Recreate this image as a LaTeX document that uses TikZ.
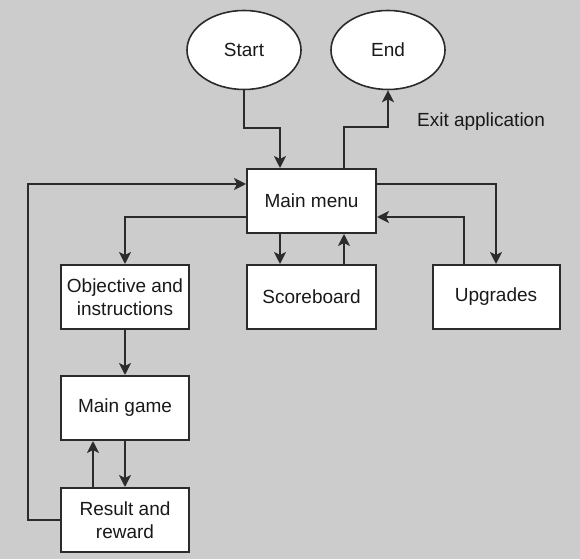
\documentclass[tikz,border=0pt]{standalone}
\usepackage{fontspec}
\setmainfont{Liberation Sans}
\usetikzlibrary{arrows.meta,shapes.geometric}

\definecolor{bggray}{HTML}{CCCCCC}
\definecolor{linegray}{HTML}{2B2B2B}

\tikzset{
	box/.style={draw=linegray, line width=2pt, fill=white, minimum width=128pt, minimum height=64pt, align=center, inner sep=2pt},
	oval/.style={ellipse, draw=linegray, line width=1.6pt, fill=white, minimum width=114pt, minimum height=79pt},
	arr/.style={draw=linegray, line width=2pt, -{Stealth[length=12pt,width=12pt,inset=3pt]}}
}

\begin{document}
\begin{tikzpicture}[x=1pt,y=1pt,font=\fontsize{19}{22.5}\selectfont, text=black!90]
	%background
	\fill[bggray] (0,0) rectangle (580,559);
	\useasboundingbox (0,0) rectangle (580,559);

	%terminals
	\node[oval] (start) at (244,509) 	{Start};
	\node[oval] (end) at (388,509) 		{End};

	%boxes
	\node[box, minimum width=129pt] (menu) at (311.5,358) 	{Main menu};
	\node[box] (obj) at (125,262) 							{Objective and\\instructions};
	\node[box, minimum width=129pt] (score) at (311.5,262) 	{Scoreboard};
	\node[box, minimum width=127pt] (upg) at (496,262) 		{Upgrades};
	\node[box] (game) at (125,151) 							{Main game};
	\node[box] (result) at (125,39) 						{Result and\\reward};

	%label
	\node (exit) at (481,437) 	{Exit application};

	%arrows
	\draw[arr]	(start.south) -- ++(0,-38) -| ([xshift=-31.5pt]menu.north);
	\draw[arr]	([xshift=32.5pt]menu.north) -- ++(0,41) -| (end.south);
	\draw[arr]	(result.west) -- ++(-32,0) |- ([yshift=17pt]menu.west);
	\draw[arr]	([yshift=-16pt]menu.west) -| (obj.north);
	\draw[arr]	([xshift=-31.5pt]menu.south) -- ([xshift=-31.5pt]score.north);
	\draw[arr]	([xshift=32.5pt]score.north) -- ([xshift=32.5pt]menu.south);
	\draw[arr]	([yshift=17pt]menu.east) -| (upg.north);
	\draw[arr]	([xshift=-32pt]upg.north) |- ([yshift=-16pt]menu.east);
	\draw[arr]	(obj.south) -- (game.north);
	\draw[arr]	(game.south) -- (result.north);
	\draw[arr]	([xshift=-32pt]result.north) -- ([xshift=-32pt]game.south);
\end{tikzpicture}
\end{document}
